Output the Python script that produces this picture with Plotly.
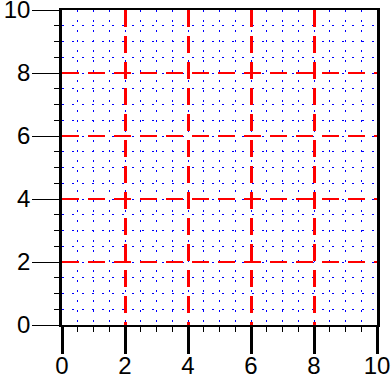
import plotly.graph_objects as go

x_range = [0, 10]
y_range = [0, 10]
major_ticks = [0, 2, 4, 6, 8, 10]
major_labels = ["0", "2", "4", "6", "8", "10"]
minor_step = 0.5

fig = go.Figure()
fig.add_trace(go.Scatter(x=[], y=[], mode="markers", showlegend=False))

font = dict(family="Liberation Sans, Arial, sans-serif", size=24, color="black")
eps = 1e-6

fig.update_xaxes(
    range=[x_range[0] - eps, x_range[1] + eps], tickmode="array", tickvals=major_ticks, ticktext=major_labels,
    ticks="outside", ticklen=27, tickwidth=3, tickcolor="black",
    showline=True, linecolor="black", linewidth=1.5, mirror=True,
    showgrid=True, gridcolor="red", gridwidth=2.5, griddash="17px,9px",
    zeroline=False, tickfont=font, automargin=False,
    ticklabeloverflow="allow", ticklabelstandoff=-9,
    minor=dict(dtick=minor_step, tick0=0, ticks="outside", ticklen=5, tickwidth=1,
               tickcolor="black", showgrid=True, gridcolor="blue", gridwidth=1,
               griddash="2px,8px"),
)
fig.update_yaxes(
    range=[y_range[0] - eps, y_range[1] + eps], tickmode="array", tickvals=major_ticks, ticktext=major_labels,
    ticks="outside", ticklen=27, tickwidth=1, tickcolor="black",
    showline=True, linecolor="black", linewidth=2.5, mirror=True,
    showgrid=True, gridcolor="#ff0000", gridwidth=1.5, griddash="17px,9px",
    zeroline=False, tickfont=font, automargin=False,
    ticklabeloverflow="allow", ticklabelstandoff=-3,
    minor=dict(dtick=minor_step, tick0=0, ticks="outside", ticklen=5, tickwidth=1,
               tickcolor="black", showgrid=True, gridcolor="blue", gridwidth=1,
               griddash="2px,8px"),
)
fig.update_layout(
    width=392, height=381,
    margin=dict(l=62, r=15, t=10, b=56),
    paper_bgcolor="white", plot_bgcolor="white",
)
fig.write_html("out.html")
